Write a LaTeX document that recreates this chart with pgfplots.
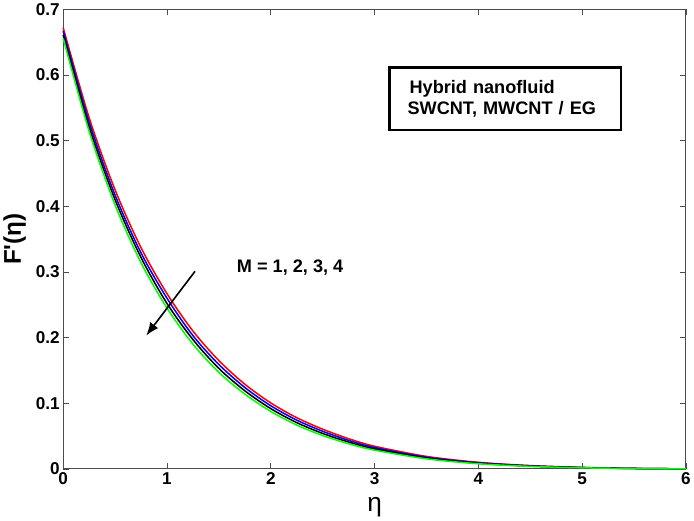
\documentclass[border=0pt]{standalone}
\usepackage{pgfplots}
\pgfplotsset{compat=1.18}
\usetikzlibrary{arrows.meta}
\usepackage{fontspec}
\setmainfont{Liberation Sans}
\begin{document}
\begin{tikzpicture}
\begin{axis}[
    scale only axis,
    width=618pt, height=456pt,
    xmin=0, xmax=6, ymin=0, ymax=0.7,
    xtick={0,1,2,3,4,5,6},
    ytick={0,0.1,0.2,0.3,0.4,0.5,0.6,0.7},
    yticklabels={0,0.1,0.2,0.3,0.4,0.5,0.6,0.7},
    /pgf/number format/assume math mode=true,
    tick align=inside, tick pos=both,
    major tick length=6pt,
    tick style={black!70, line width=0.6pt},
    axis line style={black!70, line width=0.8pt},
    ticklabel style={font=\fontsize{17}{19}\selectfont\bfseries},
    xlabel={η}, xlabel style={font=\fontsize{26}{28}\selectfont, yshift=-6pt},
    ylabel={\textbf{F\textquotesingle(}η\textbf{)}},
    ylabel style={font=\fontsize{24}{26}\selectfont\bfseries, yshift=3pt},
    every axis plot/.append style={line width=1.5pt, smooth},
    clip=false,
]
% M = 1
\addplot[red] coordinates {
(0,0.672) (0.25,0.535) (0.5,0.425) (0.75,0.337) (1,0.267) (1.25,0.210)
(1.5,0.165) (1.75,0.129) (2,0.1005) (2.25,0.0780) (2.5,0.0605) (2.75,0.0460)
(3,0.0345) (3.5,0.0190) (4,0.0100) (4.5,0.0050) (5,0.0022) (5.5,0.0007) (6,0)
};
% M = 2
\addplot[blue] coordinates {
(0,0.667) (0.25,0.528) (0.5,0.417) (0.75,0.329) (1,0.260) (1.25,0.203)
(1.5,0.159) (1.75,0.124) (2,0.0962) (2.25,0.0743) (2.5,0.0573) (2.75,0.0434)
(3,0.0325) (3.5,0.0178) (4,0.0093) (4.5,0.0046) (5,0.0020) (5.5,0.0006) (6,0)
};
% M = 3
\addplot[black] coordinates {
(0,0.661) (0.25,0.521) (0.5,0.410) (0.75,0.322) (1,0.252) (1.25,0.197)
(1.5,0.153) (1.75,0.119) (2,0.0918) (2.25,0.0705) (2.5,0.0540) (2.75,0.0409)
(3,0.0305) (3.5,0.0165) (4,0.0085) (4.5,0.0042) (5,0.0018) (5.5,0.0006) (6,0)
};
% M = 4
\addplot[green] coordinates {
(0,0.656) (0.25,0.514) (0.5,0.402) (0.75,0.314) (1,0.245) (1.25,0.190)
(1.5,0.147) (1.75,0.114) (2,0.0875) (2.25,0.0668) (2.5,0.0508) (2.75,0.0383)
(3,0.0285) (3.5,0.0153) (4,0.0078) (4.5,0.0038) (5,0.0016) (5.5,0.0005) (6,0)
};
% annotations
\draw[-{Latex[length=13pt, width=10pt]}, line width=1.6pt] (axis cs:1.27,0.301) -- (axis cs:0.80,0.203);
\node[anchor=west, font=\fontsize{18}{20}\selectfont\bfseries] at (axis cs:1.64,0.307) {M = 1, 2, 3, 4};
\node[draw, line width=2.5pt, inner xsep=10pt, inner ysep=8pt, align=left,
      text width=210pt, minimum height=62pt,
      font=\fontsize{18}{21}\selectfont\bfseries] at (axis cs:4.26,0.564)
      {\hspace*{10pt}Hybrid nanofluid\\\hspace*{8pt}SWCNT, MWCNT / EG};
\end{axis}
\end{tikzpicture}
\end{document}
